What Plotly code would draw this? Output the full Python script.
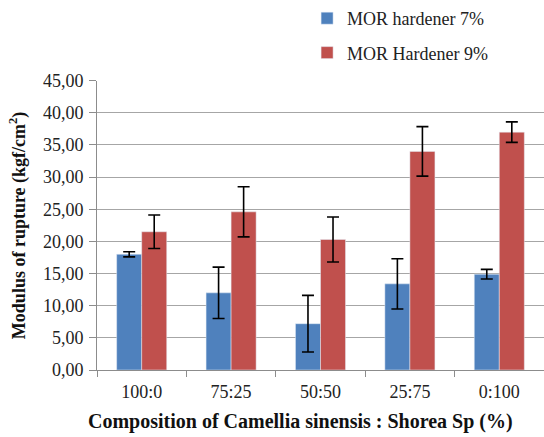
import plotly.graph_objects as go

categories = ["100:0", "75:25", "50:50", "25:75", "0:100"]
mor7 = [18.0, 12.0, 7.2, 13.4, 14.9]
mor7_err = [0.4, 4.0, 4.4, 3.9, 0.75]
mor9 = [21.5, 24.6, 20.3, 34.0, 37.0]
mor9_err = [2.6, 3.9, 3.5, 3.85, 1.6]
series_names = ["MOR hardener 7%", "MOR Hardener 9%"]
x_title = "<b>Composition of Camellia sinensis : Shorea Sp (%)</b>"
y_title = "<b>Modulus of rupture (kgf/cm<sup>2</sup>)</b>"

serif = "Liberation Serif, Times New Roman, serif"

fig = go.Figure()
fig.add_trace(go.Bar(
    x=categories, y=mor7, name=series_names[0],
    marker=dict(color="#4F81BD"),
    error_y=dict(type="data", array=mor7_err, color="black", thickness=1.6, width=6),
    legendgroup="a",
))
fig.add_trace(go.Bar(
    x=categories, y=mor9, name=series_names[1],
    marker=dict(color="#C0504D"),
    error_y=dict(type="data", array=mor9_err, color="black", thickness=1.6, width=6),
    legendgroup="b",
))

fig.update_layout(
    width=544, height=437,
    margin=dict(l=97, r=0, t=68, b=67),
    paper_bgcolor="white", plot_bgcolor="white",
    barmode="group", bargap=0.44, bargroupgap=0,
    separators=",.",
    font=dict(family=serif, size=18, color="#222"),
    legend=dict(
        x=0.47, xanchor="left", yref="container", y=1.0, yanchor="top",
        font=dict(family=serif, size=18, color="#222"),
        traceorder="grouped", tracegroupgap=8, itemwidth=30,
        bgcolor="rgba(0,0,0,0)",
    ),
    xaxis=dict(
        showline=True, linecolor="#8c8c8c", linewidth=1,
        ticks="outside", tickson="boundaries", ticklen=6, tickcolor="#8c8c8c",
        tickfont=dict(family=serif, size=18, color="#222"),
        ticklabelstandoff=5,
    ),
    yaxis=dict(
        range=[0, 45], dtick=5, tickformat=".2f",
        showline=True, linecolor="#8c8c8c", linewidth=1,
        ticks="outside", ticklen=7, tickcolor="#8c8c8c",
        showgrid=True, gridcolor="#a6a6a6", gridwidth=1,
        tickfont=dict(family=serif, size=18, color="#222"),
        ticklabelstandoff=2,
    ),
    annotations=[
        dict(text=x_title, xref="paper", yref="paper", x=0.455, y=-0.178,
             xanchor="center", yanchor="middle", showarrow=False,
             font=dict(family=serif, size=20, color="#111")),
        dict(text=y_title, xref="paper", yref="paper", x=-0.175, y=0.5,
             xanchor="center", yanchor="middle", showarrow=False, textangle=-90,
             font=dict(family=serif, size=18, color="#111")),
    ],
)

fig.write_html("out.html")
